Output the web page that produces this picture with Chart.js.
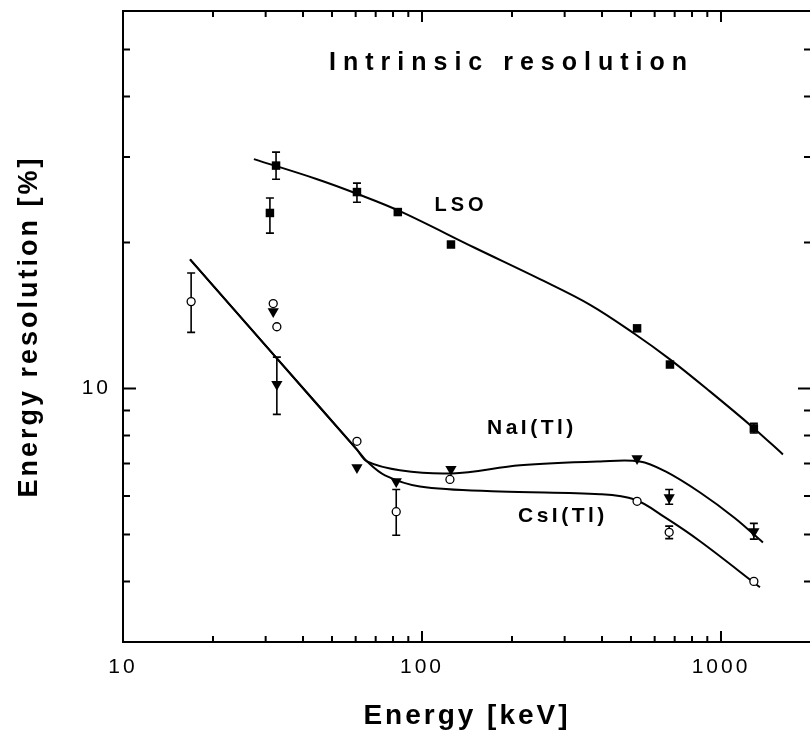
<!DOCTYPE html>
<html>
<head>
<meta charset="utf-8">
<title>Intrinsic resolution</title>
<script src="https://cdn.jsdelivr.net/npm/chart.js@4.4.1/dist/chart.umd.min.js"></script>
<style>
  html, body { margin: 0; padding: 0; background: #fff; overflow: hidden; }
  canvas { display: block; }
</style>
</head>
<body>
<canvas id="resChart" width="812" height="733"></canvas>
<script>
// measured points (energy in keV, resolution in %)
const lsoE    = [31, 32.5, 60.6, 83, 125, 524, 675, 1288];
const lsoRes  = [23.0, 28.8, 25.4, 23.1, 19.8, 13.3, 11.2, 8.27];
const lsoLo   = [20.9, 27.0, 24.2, null, null, null, null, 8.09];
const lsoHi   = [24.7, 30.7, 26.5, null, null, null, null, 8.47];

const naiE    = [31.8, 32.7, 60.6, 82, 125, 524, 671, 1288];
const naiRes  = [14.4, 10.2, 6.87, 6.43, 6.81, 7.17, 5.96, 5.07];
const naiLo   = [null, 8.84, null, null, null, null, 5.77, 4.89];
const naiHi   = [null, 11.6, null, null, null, null, 6.19, 5.27];

const csiE    = [16.9, 31.8, 32.7, 60.6, 82, 124, 524, 671, 1288];
const csiRes  = [15.1, 14.96, 13.4, 7.78, 5.57, 6.49, 5.85, 5.05, 4.0];
const csiLo   = [13.05, null, null, null, 4.98, null, null, 4.9, null];
const csiHi   = [17.3, null, null, null, 6.19, null, null, 5.2, null];

// fitted curves
const lsoFitE   = [27.4, 44.6, 60.6, 84.3, 150, 248, 365, 515, 675, 918, 1279, 1611];
const lsoFitRes = [29.7, 27.0, 25.2, 23.2, 19.5, 16.8, 14.87, 12.95, 11.48, 9.86, 8.31, 7.31];
const naiFitE   = [16.76, 32.7, 60.6, 65.5, 84.3, 126, 213, 394, 535, 650, 851, 1114, 1381];
const naiFitRes = [18.45, 11.53, 7.48, 7.07, 6.78, 6.68, 6.94, 7.07, 7.07, 6.75, 6.1, 5.4, 4.81];
const csiFitE   = [16.76, 32.7, 60.6, 65.5, 75.2, 98.4, 182, 394, 515, 650, 851, 1350];
const csiFitRes = [18.45, 11.53, 7.48, 7.07, 6.62, 6.28, 6.13, 6.05, 5.9, 5.42, 4.84, 3.89];

// axes
const xLabelTicks = [10, 100, 1000];
const yLabelTicks = [10];
const xMinorTicks = [20, 30, 40, 50, 60, 70, 80, 90, 200, 300, 400, 500, 600, 700, 800, 900];
const yMinorTicks = [4, 5, 6, 7, 8, 9, 20, 30, 40, 50];

// text placed in data coordinates
const notes = [
  { text: 'Intrinsic resolution', x: 194, y: 46.8, size: 25, spacing: 7 },
  { text: 'LSO', x: 133, y: 23.8, size: 20, spacing: 4 },
  { text: 'NaI(Tl)', x: 230, y: 8.27, size: 21, spacing: 3.5 },
  { text: 'CsI(Tl)', x: 292, y: 5.45, size: 21, spacing: 3.5 }
];

const FONT = '"Liberation Sans", Arial, sans-serif';

function pts(xs, ys) {
  return xs.map((v, i) => ({ x: v, y: ys[i] }));
}

const errSets = [
  { e: lsoE, lo: lsoLo, hi: lsoHi },
  { e: naiE, lo: naiLo, hi: naiHi },
  { e: csiE, lo: csiLo, hi: csiHi }
];

const spacing = {
  id: 'spacing',
  beforeDraw(chart) { chart.ctx.letterSpacing = '3px'; },
  beforeDatasetsDraw(chart) { chart.ctx.letterSpacing = '0px'; }
};

const errorBars = {
  id: 'errorBars',
  beforeDatasetsDraw(chart) {
    const { ctx, scales: { x, y } } = chart;
    ctx.save();
    ctx.strokeStyle = '#000';
    ctx.lineWidth = 1.6;
    errSets.forEach(s => {
      s.e.forEach((e, i) => {
        if (s.lo[i] == null) return;
        const px = x.getPixelForValue(e);
        const y1 = y.getPixelForValue(s.lo[i]);
        const y2 = y.getPixelForValue(s.hi[i]);
        ctx.beginPath();
        ctx.moveTo(px, y1); ctx.lineTo(px, y2);
        ctx.moveTo(px - 4, y1); ctx.lineTo(px + 4, y1);
        ctx.moveTo(px - 4, y2); ctx.lineTo(px + 4, y2);
        ctx.stroke();
      });
    });
    ctx.restore();
  }
};

const frame = {
  id: 'frame',
  afterDraw(chart) {
    const { ctx, chartArea: a, scales: { x, y } } = chart;
    ctx.save();
    ctx.strokeStyle = '#000';
    ctx.lineWidth = 2;
    ctx.strokeRect(a.left, a.top, a.right - a.left, a.bottom - a.top);
    ctx.beginPath();
    const xt = (v, len) => {
      const p = x.getPixelForValue(v);
      ctx.moveTo(p, a.bottom); ctx.lineTo(p, a.bottom - len);
      ctx.moveTo(p, a.top); ctx.lineTo(p, a.top + len);
    };
    const yt = (v, len) => {
      const p = y.getPixelForValue(v);
      ctx.moveTo(a.left, p); ctx.lineTo(a.left + len, p);
      ctx.moveTo(a.right, p); ctx.lineTo(a.right - len, p);
    };
    xMinorTicks.forEach(v => xt(v, 6));
    xLabelTicks.forEach(v => xt(v, 11));
    yMinorTicks.forEach(v => yt(v, 7));
    yLabelTicks.forEach(v => yt(v, 13));
    ctx.stroke();
    ctx.restore();
  }
};

const labels = {
  id: 'labels',
  afterDatasetsDraw(chart) {
    const { ctx, scales: { x, y } } = chart;
    ctx.save();
    ctx.fillStyle = '#000';
    ctx.textAlign = 'center';
    ctx.textBaseline = 'middle';
    notes.forEach(n => {
      ctx.font = 'bold ' + n.size + 'px ' + FONT;
      ctx.letterSpacing = n.spacing + 'px';
      ctx.fillText(n.text, x.getPixelForValue(n.x) + n.spacing / 2, y.getPixelForValue(n.y));
    });
    ctx.restore();
  }
};

const fitStyle = { showLine: true, pointRadius: 0, borderColor: '#000', borderWidth: 2, tension: 0.35, order: 2 };

const ctx = document.getElementById('resChart');
new Chart(ctx, {
  type: 'scatter',
  data: {
    datasets: [
      { label: 'LSO', data: pts(lsoE, lsoRes), pointStyle: 'rect', pointRadius: 6,
        backgroundColor: '#000', borderColor: '#000', borderWidth: 0, order: 1 },
      { label: 'NaI(Tl)', data: pts(naiE, naiRes), pointStyle: 'triangle', rotation: 180, pointRadius: 6.5,
        backgroundColor: '#000', borderColor: '#000', borderWidth: 0, order: 1 },
      { label: 'CsI(Tl)', data: pts(csiE, csiRes), pointStyle: 'circle', pointRadius: 4,
        backgroundColor: '#fff', borderColor: '#000', borderWidth: 1.3, order: 0 },
      Object.assign({ label: 'LSO fit', data: pts(lsoFitE, lsoFitRes) }, fitStyle),
      Object.assign({ label: 'NaI(Tl) fit', data: pts(naiFitE, naiFitRes) }, fitStyle),
      Object.assign({ label: 'CsI(Tl) fit', data: pts(csiFitE, csiFitRes) }, fitStyle)
    ]
  },
  options: {
    responsive: false,
    animation: false,
    layout: { autoPadding: false, padding: { top: 11, right: 1, left: 0, bottom: 0 } },
    plugins: { legend: { display: false }, tooltip: { enabled: false } },
    scales: {
      x: {
        type: 'logarithmic',
        min: 10,
        max: 2000,
        grid: { display: false, drawTicks: false },
        border: { display: false },
        afterBuildTicks: s => { s.ticks = xLabelTicks.map(v => ({ value: v })); },
        afterFit: s => { s.height = 91; s.paddingLeft = 0; s.paddingRight = 0; },
        ticks: {
          autoSkip: false, maxRotation: 0, padding: 13, color: '#000',
          font: { family: FONT, size: 21 },
          callback: v => String(v)
        },
        title: {
          display: true, text: 'Energy [keV]', color: '#000',
          font: { family: FONT, size: 28, weight: 'bold', lineHeight: 1.2 },
          padding: { top: 0, bottom: 0 }
        }
      },
      y: {
        type: 'logarithmic',
        min: 3,
        max: 60,
        grid: { display: false, drawTicks: false },
        border: { display: false },
        afterBuildTicks: s => { s.ticks = yLabelTicks.map(v => ({ value: v })); },
        afterFit: s => { s.width = 123; s.paddingTop = 0; s.paddingBottom = 0; },
        ticks: {
          autoSkip: false, padding: 12, color: '#000',
          font: { family: FONT, size: 21 },
          callback: v => String(v)
        },
        title: {
          display: true, text: 'Energy resolution [%]', color: '#000',
          font: { family: FONT, size: 27, weight: 'bold', lineHeight: 1.2 },
          padding: { top: 13, bottom: 0 }
        }
      }
    }
  },
  plugins: [spacing, errorBars, labels, frame]
});
</script>
</body>
</html>
